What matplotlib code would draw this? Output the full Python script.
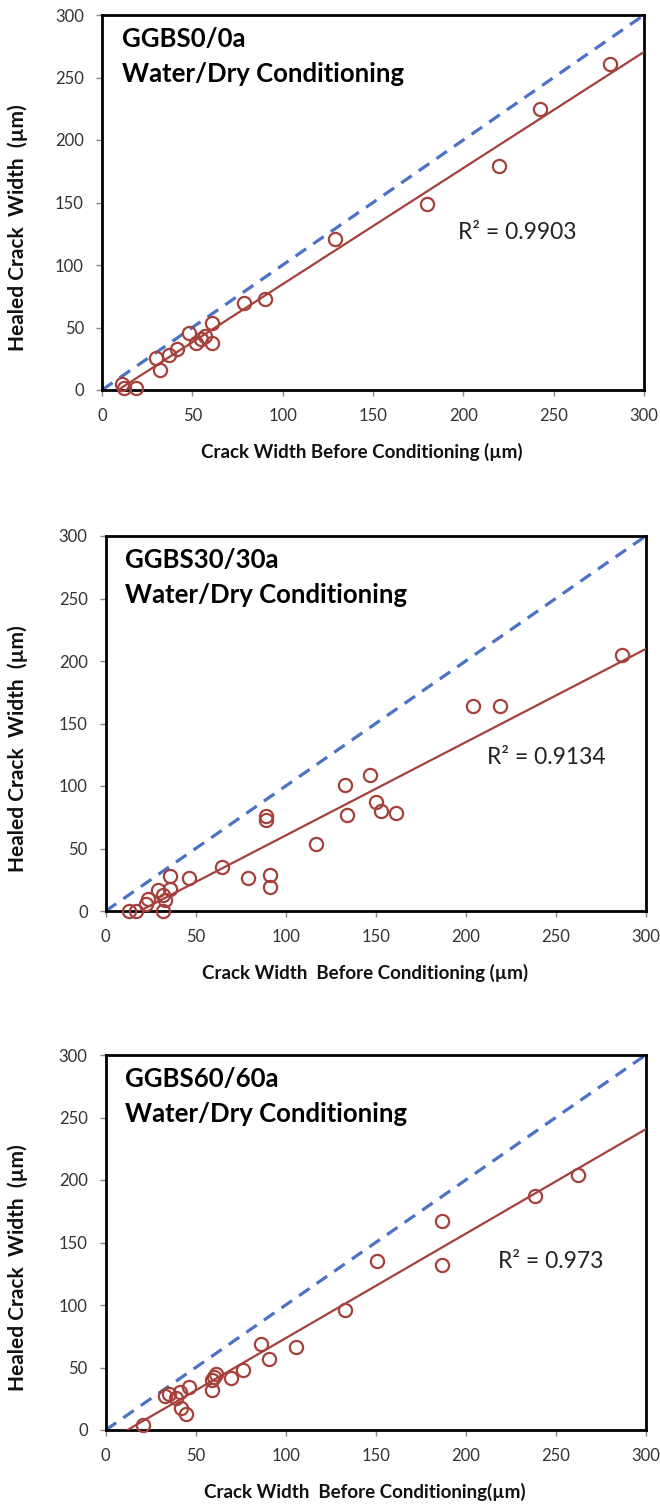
import numpy as np
import matplotlib
matplotlib.use("Agg")
import matplotlib.pyplot as plt

plt.rcParams['font.family'] = ['Lato', 'DejaVu Sans']

# ---------------- data ----------------
titles = ["GGBS0/0a", "GGBS30/30a", "GGBS60/60a"]
subtitle = "Water/Dry Conditioning"
r2_labels = ["R\u00b2 = 0.9903", "R\u00b2 = 0.9134", "R\u00b2 = 0.973"]
xlabels = ["Crack Width Before Conditioning (\u00b5m)",
           "Crack Width  Before Conditioning (\u00b5m)",
           "Crack Width  Before Conditioning(\u00b5m)"]
ylabel = "Healed Crack  Width  (\u00b5m)"
ticks = [0, 50, 100, 150, 200, 250, 300]

x1 = [11, 12, 19, 29.7, 32, 37, 41.3, 48, 51.8, 54.6, 57, 60.7, 61, 78.4, 90,
      129, 180, 220, 242.5, 281]
y1 = [5, 2, 1.8, 26, 16, 28, 32.7, 45.8, 37.5, 40.7, 43, 37.5, 54, 70, 73,
      121, 149, 179, 225, 261]

x2 = [13, 17, 32, 22.6, 23.5, 29, 31.9, 33, 35.5, 35.5, 46.3, 64.8, 79, 89, 89,
      91, 91, 117, 133, 134, 147, 150, 153, 161, 204, 219, 287]
y2 = [0, 0, 0, 6, 10, 17, 12.6, 9, 18, 27.8, 26.7, 35.2, 26.7, 76, 72.6,
      28.6, 19.3, 54, 101, 76.6, 108.6, 87.2, 79.8, 78.7, 164, 164, 205]

x3 = [20.7, 33, 34.9, 39.3, 41.2, 41.6, 44.4, 46.2, 59.3, 59.3, 60.2, 61.2,
      69.6, 76.1, 86, 90.7, 105.9, 133, 150.7, 187, 186.7, 238.4, 262.6]
y3 = [4, 27.1, 28.7, 25.4, 30.6, 18, 13.2, 34.6, 31.9, 39.9, 42.5, 45.2,
      41.3, 48.4, 68.6, 57.2, 66.5, 96, 135.6, 167.5, 132.4, 187.4, 204.2]

xs = [x1, x2, x3]
ys = [y1, y2, y3]
r2_pos = [(197, 126), (212, 123), (218, 135)]

# ---------------- layout (pixels) ----------------
W, H = 660, 1508
panels_px = [  # left, top, right, bottom
    (102, 15, 644, 390),
    (105.7, 536, 645.7, 911),
    (105.7, 1055, 645.7, 1430),
]

red = "#A5403B"
blue = "#4A72C6"
tick_col = "#333333"

fig = plt.figure(figsize=(W / 100, H / 100), dpi=100)

for i in range(3):
    l, t, r, b = panels_px[i]
    ax = fig.add_axes([l / W, 1 - b / H, (r - l) / W, (b - t) / H])
    x = np.array(xs[i], dtype=float)
    y = np.array(ys[i], dtype=float)

    # 1:1 reference line
    ax.plot([0, 300], [0, 300], color=blue, lw=2.3, dashes=(4.0, 2.7),
            zorder=2, solid_capstyle='butt')
    # linear trendline
    k, c = np.polyfit(x, y, 1)
    xx = np.array([0, 300.0])
    ax.plot(xx, k * xx + c, color=red, lw=1.6, zorder=3)
    # data points
    ax.plot(x, y, 'o', ms=9.5, mfc='none', mec=red, mew=1.6, zorder=4,
            clip_on=False)

    ax.set_xlim(0, 300)
    ax.set_ylim(0, 300)
    ax.set_xticks(ticks)
    ax.set_yticks(ticks)
    ax.tick_params(direction='out', length=4, width=1, color='#888888',
                   labelsize=12, labelcolor=tick_col, pad=9)
    for sp in ax.spines.values():
        sp.set_linewidth(2.0)
        sp.set_color('black')

    ax.text(0.036, 0.914, titles[i], transform=ax.transAxes, fontsize=18.5,
            fontweight='bold', va='baseline', ha='left', color='black')
    ax.text(0.036, 0.822, subtitle, transform=ax.transAxes, fontsize=18.5,
            fontweight='bold', va='baseline', ha='left', color='black')

    ax.text(r2_pos[i][0], r2_pos[i][1], r2_labels[i], fontsize=16.5,
            va='center', ha='left', color='#222222')

    ax.set_xlabel(xlabels[i], fontsize=13.5, fontweight='bold',
                  va='center', color='#111111')
    ax.xaxis.set_label_coords(0.48, -62 / 375)
    ax.set_ylabel(ylabel, fontsize=15, fontweight='bold', va='center',
                  ha='center', color='#111111')
    ax.yaxis.set_label_coords((17.5 - l) / (r - l), 0.432)

fig.savefig("out.png", dpi=100)
